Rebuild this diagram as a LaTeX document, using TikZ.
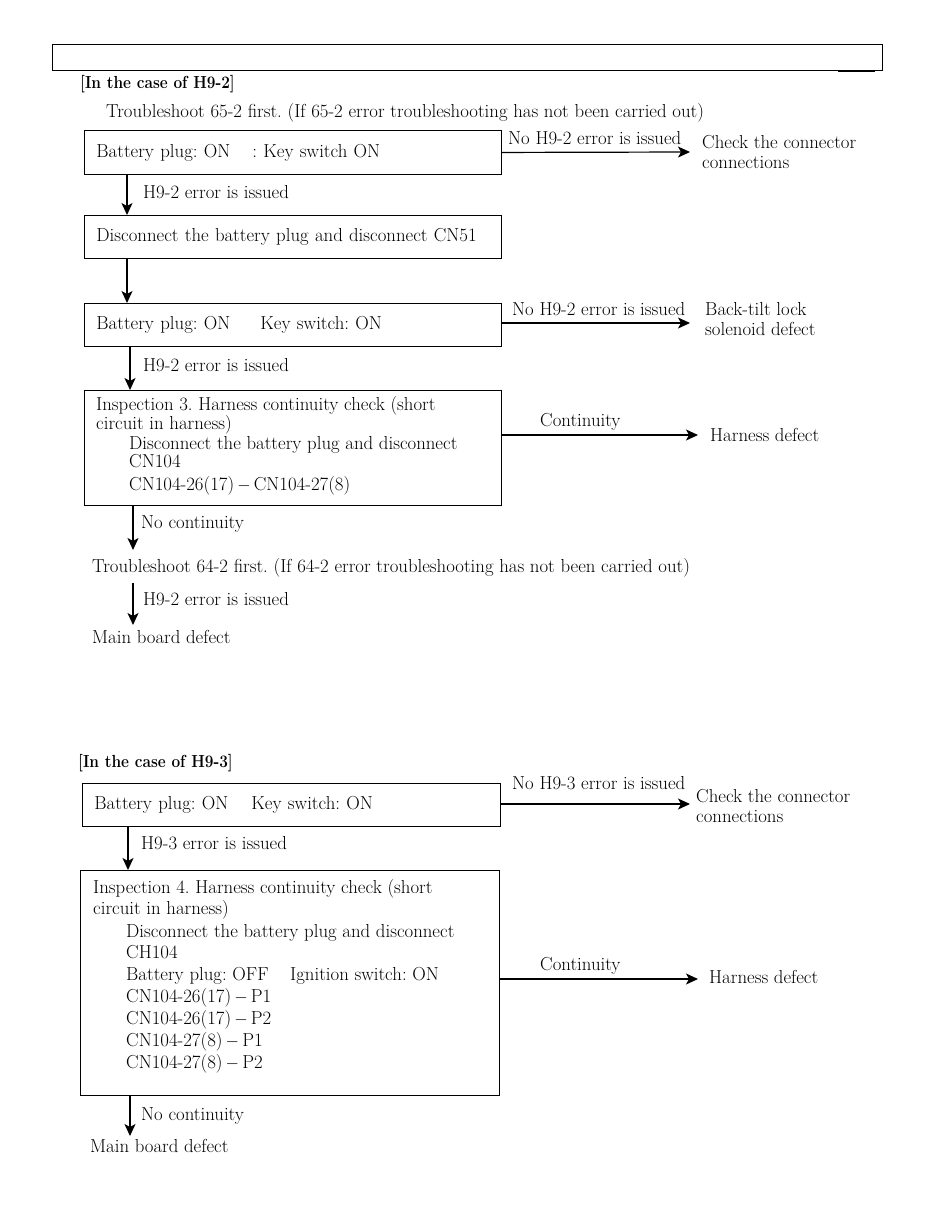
\documentclass[tikz,border=0pt]{standalone}
\usetikzlibrary{arrows.meta,calc}
\begin{document}
\frenchspacing
\begin{tikzpicture}[x=1pt,y=-1pt,
  every node/.style={font=\fontsize{18.8}{24}\selectfont, inner sep=0pt},
  box/.style={draw, line width=0.9pt, anchor=north west, inner xsep=12pt, inner ysep=0pt, align=left},
  txt/.style={anchor=base west, align=left},
  head/.style={anchor=base west, font=\fontsize{17.5}{22}\selectfont\bfseries},
  arr/.style={line width=1.2pt, -{Stealth[length=12pt,width=11pt,inset=3pt]}}]
\useasboundingbox (0,0) rectangle (935,1210);

% top frame
\node[draw, line width=0.9pt, anchor=north west, minimum width=830pt, minimum height=26pt] (top) at (52,44) {};
\coordinate (ta) at (838,71.5);
\coordinate (tb) at (875,71.5);
\draw[line width=1.6pt] (ta) -- (tb);

% ===== Section H9-2 =====
\node[head] (h1) at (80,88) {\scalebox{0.88}[1]{[In the case of H9-2]}};
\node[txt] (t65) at (106,117) {Troubleshoot 65-2 first. (If 65-2 error troubleshooting has not been carried out)};

\node[box, text width=393pt, minimum height=44pt] (b1) at (84,130) {\makebox[156pt][l]{Battery plug: ON}: Key switch ON};
\coordinate (e1) at (690,152);
\draw[arr] (b1.east) -- (e1);
\node[txt] (lab1) at (508,144) {No H9-2 error is issued};
\node[txt] (t1a) at (702,148) {Check the connector};
\node[txt] (t1b) at (702,168) {connections};

\coordinate (v1) at (127,0);
\node[box, text width=393pt, minimum height=43pt] (b2) at (84,215) {Disconnect the battery plug and disconnect CN51};
\draw[arr] (b1.south -| v1) -- (b2.north -| v1);
\node[txt] (lab2) at (143,198) {H9-2 error is issued};

\node[box, text width=393pt, minimum height=43pt] (b3) at (84,303) {\makebox[164pt][l]{Battery plug: ON}Key switch: ON};
\draw[arr] (b2.south -| v1) -- (b3.north -| v1);
\coordinate (e3) at (690,323);
\draw[arr] (b3.east |- e3) -- (e3);
\node[txt] (lab3) at (512,315) {No H9-2 error is issued};
\node[txt] (t3a) at (705,315) {Back-tilt lock};
\node[txt] (t3b) at (705,335) {solenoid defect};

\coordinate (v2) at (130,0);
\node[box, minimum width=417pt, minimum height=115pt] (b4) at (84,390) {};
\draw[arr] (b3.south -| v2) -- (b4.north -| v2);
\node[txt] (lab4) at (143,371) {H9-2 error is issued};
\node[txt] (b4l1) at (96,410) {Inspection 3. Harness continuity check (short};
\node[txt] (b4l2) at (96,429) {circuit in harness)};
\node[txt] (b4l3) at (129,449) {Disconnect the battery plug and disconnect};
\node[txt] (b4l4) at (129,467) {CN104};
\node[txt] (b4l5) at (129,490) {CN104-26(17)\,$-$\,CN104-27(8)};
\coordinate (e4) at (698,435);
\draw[arr] (b4.east |- e4) -- (e4);
\node[txt] (lab5) at (540,426) {Continuity};
\node[txt] (t5) at (710,441) {Harness defect};

\coordinate (v3) at (133,0);
\node[txt] (t64) at (92,572) {Troubleshoot 64-2 first. (If 64-2 error troubleshooting has not been carried out)};
\coordinate (e5) at (133,550);
\draw[arr] (b4.south -| v3) -- (e5);
\node[txt] (lab6) at (141,528) {No continuity};
\coordinate (s6) at (133,583);
\coordinate (e6) at (133,625);
\draw[arr] (s6) -- (e6);
\node[txt] (lab7) at (143,605) {H9-2 error is issued};
\node[txt] (mb1) at (92,643) {Main board defect};

% ===== Section H9-3 =====
\node[head] (h2) at (78,767) {\scalebox{0.88}[1]{[In the case of H9-3]}};
\node[box, text width=394pt, minimum height=43pt] (b5) at (82,783) {\makebox[157pt][l]{Battery plug: ON}Key switch: ON};
\coordinate (e8) at (690,804);
\draw[arr] (b5.east |- e8) -- (e8);
\node[txt] (lab8) at (512,789) {No H9-3 error is issued};
\node[txt] (t8a) at (696,802) {Check the connector};
\node[txt] (t8b) at (696,822) {connections};

\coordinate (v4) at (128,0);
\node[box, minimum width=419pt, minimum height=225pt] (b6) at (80,870) {};
\draw[arr] (b5.south -| v4) -- (b6.north -| v4);
\node[txt] (lab9) at (141,849) {H9-3 error is issued};
\node[txt] (b6l1) at (93,893) {Inspection 4. Harness continuity check (short};
\node[txt] (b6l2) at (93,914) {circuit in harness)};
\node[txt] (b6l3) at (126,937) {Disconnect the battery plug and disconnect};
\node[txt] (b6l4) at (126,958) {CH104};
\node[txt] (b6l5) at (126,980) {Battery plug: OFF};
\node[txt] (b6l5b) at (290,980) {Ignition switch: ON};
\node[txt] (b6l6) at (126,1002) {CN104-26(17)\,$-$\,P1};
\node[txt] (b6l7) at (126,1024) {CN104-26(17)\,$-$\,P2};
\node[txt] (b6l8) at (126,1046) {CN104-27(8)\,$-$\,P1};
\node[txt] (b6l9) at (126,1068) {CN104-27(8)\,$-$\,P2};
\coordinate (e10) at (698,979);
\draw[arr] (b6.east |- e10) -- (e10);
\node[txt] (lab10) at (540,970) {Continuity};
\node[txt] (t10) at (709,983) {Harness defect};

\coordinate (v5) at (130,0);
\node[txt] (mb2) at (90,1152) {Main board defect};
\coordinate (e11) at (130,1136);
\draw[arr] (b6.south -| v5) -- (e11);
\node[txt] (lab11) at (141,1120) {No continuity};
\end{tikzpicture}
\end{document}
